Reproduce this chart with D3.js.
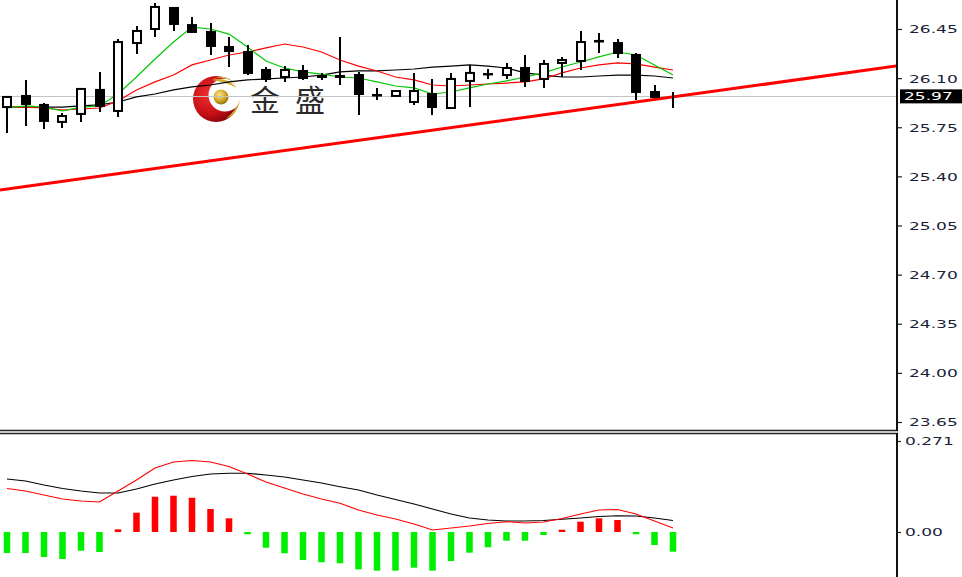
<!DOCTYPE html>
<html><head><meta charset="utf-8">
<script src="https://cdn.jsdelivr.net/npm/d3@7"></script>
<style>html,body{margin:0;padding:0;background:#fff;overflow:hidden}</style>
</head><body>
<svg id="chart" width="962" height="577"></svg>
<script>
// ---------- data ----------
const open  = [25.894,25.973,25.909,25.788,25.845,26.016,25.866,26.350,26.450,26.600,26.478,26.429,26.322,26.286,26.158,26.108,26.151,26.115,26.115,26.122,25.980,25.973,25.930,25.987,25.887,26.080,26.129,26.122,26.172,26.094,26.208,26.222,26.361,26.350,26.265,26.001,25.966];
const high  = [25.973,26.087,25.923,25.852,26.023,26.144,26.379,26.471,26.635,26.605,26.535,26.493,26.393,26.336,26.179,26.186,26.194,26.137,26.393,26.144,26.030,26.010,26.137,26.094,26.137,26.194,26.165,26.208,26.265,26.229,26.251,26.436,26.422,26.379,26.279,26.051,26.001];
const low   = [25.709,25.759,25.738,25.745,25.788,25.859,25.823,26.272,26.393,26.436,26.422,26.265,26.179,26.122,26.073,26.073,26.087,26.087,26.051,25.837,25.944,25.970,25.909,25.837,25.885,25.894,26.094,26.094,26.037,26.030,26.108,26.158,26.279,26.243,25.944,25.964,25.887];
const close = [25.966,25.916,25.795,25.830,26.023,25.902,26.357,26.436,26.607,26.486,26.429,26.329,26.293,26.137,26.094,26.158,26.101,26.108,26.108,25.987,25.976,26.008,26.008,25.894,26.094,26.137,26.126,26.172,26.080,26.201,26.229,26.357,26.365,26.279,26.001,25.966,25.966];
const barIndex = close.map((_, i) => i);

const maGreen = [25.887,25.902,25.894,25.866,25.894,25.902,25.987,26.108,26.236,26.357,26.464,26.450,26.414,26.322,26.222,26.172,26.144,26.129,26.108,26.101,26.073,26.044,26.030,25.987,26.001,26.030,26.058,26.080,26.108,26.137,26.179,26.215,26.251,26.286,26.265,26.194,26.122];
const maRed   = [25.894,25.894,25.887,25.873,25.880,25.887,25.937,26.016,26.073,26.122,26.194,26.229,26.265,26.286,26.315,26.343,26.322,26.286,26.229,26.186,26.151,26.108,26.087,26.051,26.044,26.051,26.058,26.065,26.073,26.094,26.137,26.172,26.194,26.208,26.201,26.179,26.158];
const maBlack = [25.894,25.894,25.894,25.894,25.902,25.909,25.930,25.966,25.987,26.016,26.037,26.051,26.073,26.087,26.094,26.101,26.108,26.122,26.144,26.151,26.151,26.158,26.165,26.179,26.186,26.194,26.186,26.172,26.137,26.122,26.108,26.108,26.115,26.122,26.122,26.115,26.101];

const macdHist  = [-0.0625,-0.0625,-0.0744,-0.0804,-0.0557,-0.0596,0.0080,0.0575,0.1051,0.1081,0.1021,0.0685,0.0408,-0.0068,-0.0468,-0.0634,-0.0834,-0.0902,-0.0932,-0.1111,-0.1152,-0.1152,-0.1063,-0.1152,-0.0864,-0.0616,-0.0456,-0.0259,-0.0259,-0.0089,0.0068,0.0307,0.0408,0.0357,-0.0068,-0.0387,-0.0587];
const macdBlack = [0.1578,0.1519,0.1400,0.1295,0.1221,0.1161,0.1161,0.1281,0.1429,0.1549,0.1653,0.1727,0.1748,0.1748,0.1697,0.1638,0.1549,0.1459,0.1349,0.1251,0.1102,0.0968,0.0834,0.0685,0.0536,0.0417,0.0357,0.0328,0.0328,0.0342,0.0378,0.0417,0.0462,0.0485,0.0476,0.0417,0.0342];
const macdRed   = [0.1295,0.1221,0.1102,0.0983,0.0923,0.0893,0.1221,0.1549,0.1906,0.2085,0.2129,0.2085,0.1951,0.1727,0.1489,0.1310,0.1132,0.0983,0.0855,0.0655,0.0506,0.0387,0.0238,0.0060,0.0119,0.0179,0.0253,0.0307,0.0268,0.0298,0.0402,0.0536,0.0655,0.0670,0.0536,0.0328,0.0119];

const priceTicks = [26.45,26.10,25.75,25.40,25.05,24.70,24.35,24.00,23.65];
const priceTickLabels = ["26.45","26.10","25.75","25.40","25.05","24.70","24.35","24.00","23.65"];
const macdTicks = [0.271, 0];
const macdTickLabels = ["0.271","0.00"];
const lastPrice = 25.97;
const lastPriceLabel = "25.97";
const trendIdx = [0, 36];
const trendPrice = [25.31, 25.966];
const brandText = "金盛";

// ---------- scales ----------
const svg = d3.select("#chart");
const W = 962, H = 577, axisX = 897;
const x = d3.scaleLinear().domain([0, 36]).range([7, 673]);
const yP = d3.scaleLinear().domain([23.65, 26.45]).range([422, 29]);
const yM = d3.scaleLinear().domain([0, 0.271]).range([532, 441]);

const defs = svg.append("defs");
defs.append("clipPath").attr("id","clipMain").append("rect").attr("x",0).attr("y",0).attr("width",axisX-1).attr("height",430);
defs.append("clipPath").attr("id","clipMacd").append("rect").attr("x",0).attr("y",434).attr("width",axisX-1).attr("height",H-434);
const rg = defs.append("radialGradient").attr("id","redG").attr("cx","35%").attr("cy","40%").attr("r","70%");
rg.append("stop").attr("offset","0%").attr("stop-color","#f03030");
rg.append("stop").attr("offset","60%").attr("stop-color","#c81018");
rg.append("stop").attr("offset","100%").attr("stop-color","#7a0008");
const gg = defs.append("radialGradient").attr("id","goldG").attr("cx","40%").attr("cy","35%").attr("r","65%");
gg.append("stop").attr("offset","0%").attr("stop-color","#f6e58a");
gg.append("stop").attr("offset","60%").attr("stop-color","#d4aa2a");
gg.append("stop").attr("offset","100%").attr("stop-color","#9a7410");

// ---------- main panel ----------
const main = svg.append("g").attr("clip-path","url(#clipMain)");

// logo watermark
const logo = main.append("g");
logo.append("circle").attr("cx",216).attr("cy",99).attr("r",23).attr("fill","url(#redG)");
logo.append("circle").attr("cx",225).attr("cy",95).attr("r",16.5).attr("fill","#fff");
logo.append("path").attr("d","M212,80 A18,18 0 0 1 236,86 A16,16 0 0 0 212,80 Z M212,80 Q226,76 237,88 Q226,82 212,80 Z").attr("fill","#d4aa2a");
logo.append("path").attr("d","M240,100 Q238,114 226,119 Q236,110 240,100 Z").attr("fill","#d4aa2a");
logo.append("circle").attr("cx",221).attr("cy",97).attr("r",7.5).attr("fill","url(#goldG)");
logo.append("text").attr("x",250).attr("y",111)
  .attr("font-family","'Noto Sans CJK SC','Noto Sans CJK TC',sans-serif")
  .attr("font-size",30).attr("letter-spacing",15).attr("fill","#2a2a2a").text(brandText);

// last price gray line
main.append("line").attr("x1",0).attr("x2",axisX).attr("y1",Math.round(yP(lastPrice))+0.5).attr("y2",Math.round(yP(lastPrice))+0.5)
  .attr("stroke","#c4c4c4").attr("stroke-width",1);

// trend line
const xi0 = x.invert(0), xi1 = x.invert(axisX);
const slope = (trendPrice[1]-trendPrice[0])/(trendIdx[1]-trendIdx[0]);
const tp = i => trendPrice[0] + slope*(i - trendIdx[0]);
main.append("line").attr("x1",x(xi0)).attr("y1",yP(tp(xi0))).attr("x2",x(xi1)).attr("y2",yP(tp(xi1)))
  .attr("stroke","#ff0000").attr("stroke-width",3);

// moving averages
const mkLine = (arr, ys) => d3.line().x((d,i)=>x(barIndex[i])).y(d=>ys(d))(arr);
main.append("path").attr("d",mkLine(maBlack,yP)).attr("fill","none").attr("stroke","#000").attr("stroke-width",1.2);
main.append("path").attr("d",mkLine(maRed,yP)).attr("fill","none").attr("stroke","#ff0000").attr("stroke-width",1.2);
main.append("path").attr("d",mkLine(maGreen,yP)).attr("fill","none").attr("stroke","#00c800").attr("stroke-width",1.2);

// candles
const cg = main.append("g").selectAll("g").data(barIndex).join("g");
cg.append("line")
  .attr("x1",i=>Math.round(x(i))).attr("x2",i=>Math.round(x(i)))
  .attr("y1",i=>yP(high[i])).attr("y2",i=>yP(low[i]))
  .attr("stroke","#000").attr("stroke-width",2);
cg.append("rect")
  .attr("x",i=>Math.round(x(i))-4).attr("width",8)
  .attr("y",i=>yP(Math.max(open[i],close[i])))
  .attr("height",i=>Math.abs(yP(open[i])-yP(close[i])))
  .attr("fill",i=>close[i]>=open[i]?"#fff":"#000")
  .attr("stroke","#000").attr("stroke-width",2);

// ---------- MACD panel ----------
const sub = svg.append("g").attr("clip-path","url(#clipMacd)");
sub.append("g").selectAll("rect").data(barIndex).join("rect")
  .attr("x",i=>x(i)-3.25).attr("width",6.5)
  .attr("y",i=>Math.min(yM(0),yM(macdHist[i])))
  .attr("height",i=>Math.abs(yM(macdHist[i])-yM(0)))
  .attr("fill",i=>macdHist[i]>=0?"#ff0000":"#00ee00");
sub.append("path").attr("d",mkLine(macdBlack,yM)).attr("fill","none").attr("stroke","#000").attr("stroke-width",1.1);
sub.append("path").attr("d",mkLine(macdRed,yM)).attr("fill","none").attr("stroke","#ff0000").attr("stroke-width",1.1);

// ---------- frame ----------
svg.append("line").attr("x1",0).attr("x2",axisX+1).attr("y1",430.5).attr("y2",430.5).attr("stroke","#222").attr("stroke-width",1.5);
svg.append("line").attr("x1",0).attr("x2",axisX+1).attr("y1",433.5).attr("y2",433.5).attr("stroke","#222").attr("stroke-width",1.5);
svg.append("line").attr("x1",axisX).attr("x2",axisX).attr("y1",0).attr("y2",431).attr("stroke","#111").attr("stroke-width",2);
svg.append("line").attr("x1",axisX).attr("x2",axisX).attr("y1",433).attr("y2",H).attr("stroke","#111").attr("stroke-width",2);

// ---------- axes ----------
const fontFam = "'DejaVu Sans', Verdana, sans-serif";
function styleAxis(g, dx){
  g.select(".domain").remove();
  g.selectAll(".tick line").attr("stroke","#222").attr("stroke-width",1.2);
  g.selectAll(".tick text").attr("x",0).attr("dy","0.36em")
    .attr("transform",`translate(${dx},0) scale(1.55,1)`)
    .attr("fill","#1a1f3a").attr("font-family",fontFam).attr("font-size",11);
}
const ax = svg.append("g").attr("transform",`translate(${axisX+1},0)`)
  .call(d3.axisRight(yP).tickValues(priceTicks).tickSize(4).tickFormat((d,i)=>priceTickLabels[i]));
styleAxis(ax, 11);
const am = svg.append("g").attr("transform",`translate(${axisX+1},0)`)
  .call(d3.axisRight(yM).tickValues(macdTicks).tickSize(3).tickFormat((d,i)=>macdTickLabels[i]));
styleAxis(am, 7);

// last price tag
const ly = yP(lastPrice);
svg.append("rect").attr("x",900).attr("y",ly-7).attr("width",62).attr("height",14).attr("fill","#000");
svg.append("text").attr("transform",`translate(904,${ly}) scale(1.55,1)`).attr("dy","0.36em")
  .attr("font-family",fontFam).attr("font-size",11).attr("fill","#fff").text(lastPriceLabel);
</script>
</body></html>
